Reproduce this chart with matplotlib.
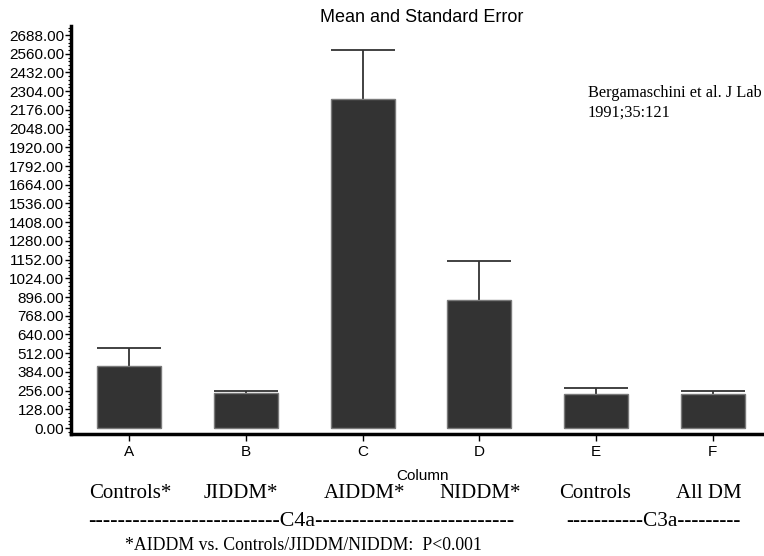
import matplotlib.pyplot as plt
from matplotlib.ticker import MultipleLocator, AutoMinorLocator

# column letters, means and standard errors
columns = ["A", "B", "C", "D", "E", "F"]
means = [422, 240, 2250, 875, 232, 232]
errors = [125, 10, 335, 267, 44, 20]
groups = ["Controls*", "JIDDM*", "AIDDM*", "NIDDM*", "Controls", "All DM"]

W, H = 764, 556
fig = plt.figure(figsize=(W / 100, H / 100), dpi=100)
# axes run slightly past the right edge, like the original clipped page
ax = fig.add_axes([71 / W, 1 - 434 / H, 700 / W, (434 - 26) / H])

x = list(range(len(columns)))
bw = 0.55
tops = [m + e for m, e in zip(means, errors)]
ax.bar(x, means, width=bw, color="#333333", edgecolor="#7a7a7a", linewidth=1, zorder=2)
# upper half of the error bar only
ax.vlines(x, means, tops, color="#333333", linewidth=1.3, zorder=1)
ax.hlines(tops, [i - bw / 2 for i in x], [i + bw / 2 for i in x],
          color="#333333", linewidth=1.3, zorder=1)

ax.set_xlim(-0.5, 5.5)
ax.set_ylim(-41, 2750)
ax.set_xticks(x)
ax.set_xticklabels(columns)
ax.yaxis.set_major_locator(MultipleLocator(128))
ax.yaxis.set_minor_locator(AutoMinorLocator(5))
ax.yaxis.set_major_formatter(lambda v, p: f"{v:.2f}")
for lab in ax.get_xticklabels() + ax.get_yticklabels():
    lab.set_family("Liberation Sans")
    lab.set_fontsize(11)

for s in ["top", "right"]:
    ax.spines[s].set_visible(False)
for s in ["left", "bottom"]:
    ax.spines[s].set_linewidth(2.5)
ax.tick_params(axis="y", which="major", length=4, width=1, pad=1)
ax.tick_params(axis="y", which="minor", length=2, width=0.8)
ax.tick_params(axis="x", length=5, width=1, pad=3)

sans = "Liberation Sans"
serif = "Liberation Serif"
fig.text(422 / W, 1 - 17 / H, "Mean and Standard Error", ha="center", va="center",
         family=sans, fontsize=13)
fig.text(422 / W, 1 - 476 / H, "Column", ha="center", va="center", family=sans, fontsize=11)

label_x = [130, 241, 365, 480, 595, 709]
for lx, g in zip(label_x, groups):
    fig.text(lx / W, 1 - 493 / H, g, ha="center", va="center", family=serif, fontsize=15)

fig.text(88 / W, 1 - 522 / H, "-" * 26 + "C4a" + "-" * 27, ha="left", va="center",
         family=serif, fontsize=15.8)
fig.text(566 / W, 1 - 522 / H, "-" * 11 + "C3a" + "-" * 9, ha="left", va="center",
         family=serif, fontsize=15.4)
fig.text(125 / W, 1 - 545 / H, "*AIDDM vs. Controls/JIDDM/NIDDM:  P<0.001", ha="left",
         va="center", family=serif, fontsize=12.8)

fig.text(588 / W, 1 - 93 / H, "Bergamaschini et al. J Lab Clin Med", ha="left", va="center",
         family=serif, fontsize=11.8)
fig.text(588 / W, 1 - 113 / H, "1991;35:121", ha="left", va="center",
         family=serif, fontsize=11.8)

fig.savefig("out.png", dpi=100)
